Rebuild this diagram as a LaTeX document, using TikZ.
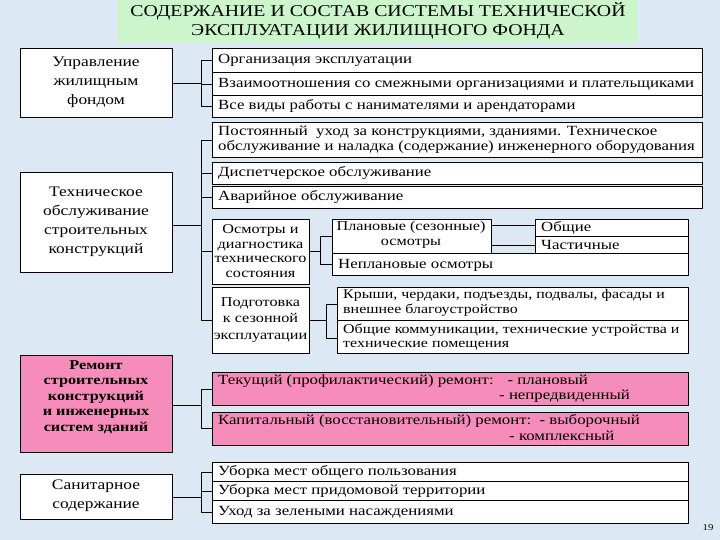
\documentclass[tikz,border=0pt]{standalone}
\usepackage{fontspec}
\setmainfont[FakeStretch=1.2]{Liberation Serif}
\begin{document}
\begin{tikzpicture}[x=1pt,y=-1pt,
  bx/.style={draw=black,fill=white,line width=0.7pt},
  pk/.style={draw=black,fill=pinkc,line width=0.9pt},
  lt/.style={anchor=west,font=\fontsize{14}{14}\selectfont,inner sep=0pt},
  ct/.style={align=center,font=\fontsize{14.5}{19}\selectfont,inner sep=0pt},
  ln/.style={line width=0.7pt}]
\definecolor{bgc}{HTML}{DCE8F4}
\definecolor{pinkc}{HTML}{F58CBA}
\definecolor{grc}{HTML}{CCF5CC}
\fill[bgc] (0,0) rectangle (720,540);
\useasboundingbox (0,0) rectangle (720,540);
% title
\fill[grc] (118,0) rectangle (638,43);
\node[ct,font=\fontsize{16.5}{19}\selectfont] (title) at (378,21) {СОДЕРЖАНИЕ И СОСТАВ СИСТЕМЫ ТЕХНИЧЕСКОЙ\\ЭКСПЛУАТАЦИИ ЖИЛИЩНОГО ФОНДА};
% left boxes
\draw[bx] (20,48) rectangle (172,117); \node[ct] (L1) at (96,82) {Управление\\жилищным\\фондом};
\draw[bx] (20,172) rectangle (172,272); \node[ct] (L2) at (96,222) {Техническое\\обслуживание\\строительных\\конструкций};
\draw[pk] (20,355) rectangle (172,452); \node[ct,font=\bfseries\fontsize{13.5}{15.5}\selectfont] (L3) at (96,397) {Ремонт\\строительных\\конструкций\\и инженерных\\систем зданий};
\draw[bx] (20,474) rectangle (172,519); \node[ct] (L4) at (96,496) {Санитарное\\содержание};
% group 1
\draw[bx] (212,48) rectangle (702,72); \node[lt] (a1) at (218,60) {Организация эксплуатации};
\draw[bx] (212,72) rectangle (702,95); \node[lt] (a2) at (218,84) {Взаимоотношения со смежными организациями и плательщиками};
\draw[bx] (212,95) rectangle (702,117); \node[lt] (a3) at (218,106) {Все виды работы с нанимателями и арендаторами};
% group 2
\draw[bx] (212,122) rectangle (702,157); \node[lt,align=left,font=\fontsize{14}{15}\selectfont] (b1) at (218,140) {Постоянный\ \ уход за конструкциями, зданиями. Техническое\\обслуживание и наладка (содержание) инженерного оборудования};
\draw[bx] (212,162) rectangle (702,184); \node[lt] (b2) at (218,173) {Диспетчерское обслуживание};
\draw[bx] (212,186) rectangle (702,208); \node[lt] (b3) at (218,197) {Аварийное обслуживание};
\draw[bx] (212,219) rectangle (309,284); \node[ct,font=\fontsize{13.5}{14.5}\selectfont] (b4) at (260.5,251) {Осмотры и\\диагностика\\технического\\состояния};
\draw[bx] (332,219) rectangle (491,253); \node[ct,font=\fontsize{13.5}{14.5}\selectfont] (b5) at (411,235) {Плановые (сезонные)\\осмотры};
\draw[bx] (535,219) rectangle (688,236); \node[lt] (b6) at (541,227.5) {Общие};
\draw[bx] (535,236) rectangle (688,253); \node[lt] (b7) at (541,244.5) {Частичные};
\draw[bx] (332,253) rectangle (688,275); \node[lt] (b8) at (338,265) {Неплановые осмотры};
\draw[bx] (212,287) rectangle (309,353); \node[ct,font=\fontsize{13.5}{16.5}\selectfont] (b9) at (260.5,320) {Подготовка\\к сезонной\\эксплуатации};
\draw[bx] (337,287) rectangle (688,353); \draw[ln] (337,320) -- (688,320);
\node[lt,align=left,font=\fontsize{13.3}{14.5}\selectfont] (b10) at (343,303) {Крыши, чердаки, подъезды, подвалы, фасады и\\внешнее благоустройство};
\node[lt,align=left,font=\fontsize{13.3}{14.5}\selectfont] (b11) at (343,337) {Общие коммуникации, технические устройства и\\технические помещения};
% group 3
\draw[pk] (212,372) rectangle (688,405); \node[lt] (c1) at (218,381) {Текущий (профилактический) ремонт:\quad - плановый};
\node[lt] (c1b) at (499,396) {- непредвиденный};
\draw[pk] (212,412) rectangle (688,445); \node[lt] (c2) at (218,421) {Капитальный (восстановительный) ремонт:\ \ - выборочный};
\node[lt] (c2b) at (509,436) {- комплексный};
% group 4
\draw[bx] (212,462) rectangle (688,481); \node[lt] (d1) at (218,472) {Уборка мест общего пользования};
\draw[bx] (212,481) rectangle (688,500); \node[lt] (d2) at (218,491) {Уборка мест придомовой территории};
\draw[bx] (212,500) rectangle (688,523); \node[lt] (d3) at (218,512) {Уход за зелеными насаждениями};
\node[font=\fontsize{9}{10}\selectfont,inner sep=0pt] (pg) at (708,528) {19};
% connectors
\coordinate (j1) at (201,83); \coordinate (j2) at (201,225);
\draw[ln] (172,83) -- (j1); \draw[ln] (201,60) -- (201,106);
\foreach \y in {60,84,106} \draw[ln] (201,\y) -- (212,\y);
\draw[ln] (172,225) -- (j2); \draw[ln] (201,140) -- (201,320);
\foreach \y in {140,173,197,251,320} \draw[ln] (201,\y) -- (212,\y);
\draw[ln] (309,251) -- (320,251); \draw[ln] (320,236) -- (320,264);
\foreach \y in {236,264} \draw[ln] (320,\y) -- (332,\y);
\draw[ln] (491,225) -- (535,225); \draw[ln] (491,245) -- (535,245);
\draw[ln] (309,320) -- (326,320); \draw[ln] (326,304) -- (326,338);
\foreach \y in {304,338} \draw[ln] (326,\y) -- (337,\y);
\draw[ln] (172,405) -- (201,405); \draw[ln] (201,389) -- (201,428);
\foreach \y in {389,428} \draw[ln] (201,\y) -- (212,\y);
\draw[ln] (172,497) -- (201,497); \draw[ln] (201,472) -- (201,512);
\foreach \y in {472,491,512} \draw[ln] (201,\y) -- (212,\y);
\end{tikzpicture}
\end{document}
